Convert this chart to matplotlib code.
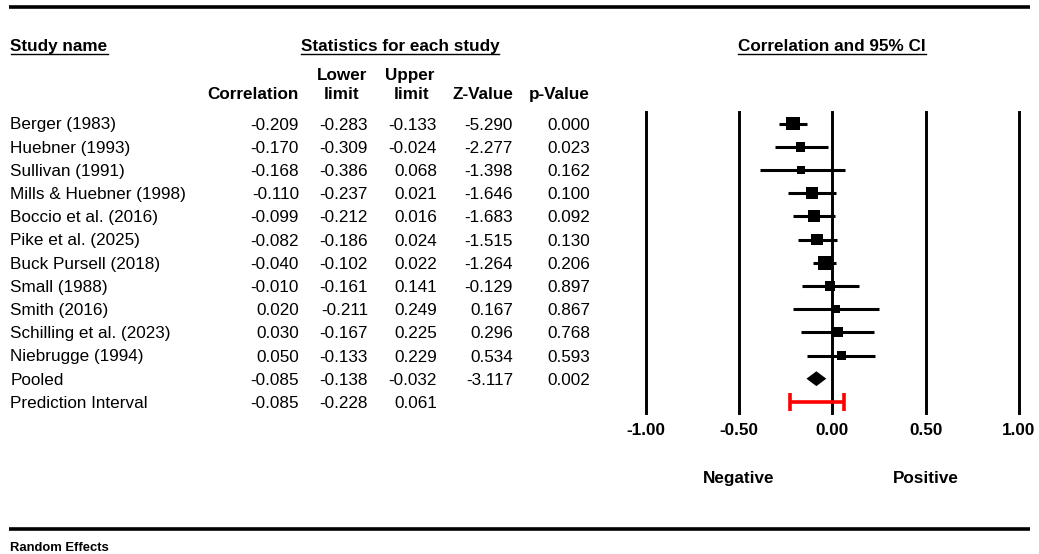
import numpy as np
import matplotlib
matplotlib.use("Agg")
from matplotlib import pyplot as plt

plt.rcParams['font.family'] = ['Liberation Sans', 'DejaVu Sans']

# study data
studies = ["Berger (1983)", "Huebner (1993)", "Sullivan (1991)", "Mills & Huebner (1998)",
           "Boccio et al. (2016)", "Pike et al. (2025)", "Buck Pursell (2018)", "Small (1988)",
           "Smith (2016)", "Schilling et al. (2023)", "Niebrugge (1994)"]
corr = [-0.209, -0.170, -0.168, -0.110, -0.099, -0.082, -0.040, -0.010, 0.020, 0.030, 0.050]
lower = [-0.283, -0.309, -0.386, -0.237, -0.212, -0.186, -0.102, -0.161, -0.211, -0.167, -0.133]
upper = [-0.133, -0.024, 0.068, 0.021, 0.016, 0.024, 0.022, 0.141, 0.249, 0.225, 0.229]
zval = [-5.290, -2.277, -1.398, -1.646, -1.683, -1.515, -1.264, -0.129, 0.167, 0.296, 0.534]
pval = [0.000, 0.023, 0.162, 0.100, 0.092, 0.130, 0.206, 0.897, 0.867, 0.768, 0.593]
# relative weights (%)
weights = [14.5, 7.7, 4.6, 10.6, 10.6, 11.1, 15.1, 7.7, 4.6, 7.3, 6.3]

pooled = {"corr": -0.085, "lower": -0.138, "upper": -0.032, "z": -3.117, "p": 0.002}
pred = {"corr": -0.085, "lower": -0.228, "upper": 0.061}

ticks = [-1.00, -0.50, 0.00, 0.50, 1.00]

W, H = 1039, 554
fig = plt.figure(figsize=(W / 100, H / 100), dpi=100)

# overlay axes in pixel units for the table text
ax0 = fig.add_axes([0, 0, 1, 1])
ax0.set_xlim(0, W)
ax0.set_ylim(H, 0)
ax0.axis('off')

FS = 12.3
row0, dy = 123.5, 23.2
def row_y(i):
    return row0 + dy * i

# horizontal rules
ax0.plot([9, 1030], [7.3, 7.3], color='black', lw=2.6, solid_capstyle='butt')
ax0.plot([9, 1030], [529, 529], color='black', lw=2.6, solid_capstyle='butt')

# headers
hdr_y = 45
under = []
under.append(ax0.text(10.5, hdr_y + 6, "Study name", fontsize=FS, fontweight='bold', ha='left', va='baseline'))
under.append(ax0.text(400, hdr_y + 6, "Statistics for each study", fontsize=FS, fontweight='bold', ha='center', va='baseline'))
under.append(ax0.text(832, hdr_y + 6, "Correlation and 95% CI", fontsize=FS, fontweight='bold', ha='center', va='baseline'))

col_x = [299, 368, 437, 513, 590]
ax0.text(299, 93 + 6, "Correlation", fontsize=FS, fontweight='bold', ha='right', va='baseline')
ax0.text(342, 74 + 6, "Lower", fontsize=FS, fontweight='bold', ha='center', va='baseline')
ax0.text(342, 93 + 6, "limit", fontsize=FS, fontweight='bold', ha='center', va='baseline')
ax0.text(410, 74 + 6, "Upper", fontsize=FS, fontweight='bold', ha='center', va='baseline')
ax0.text(412, 93 + 6, "limit", fontsize=FS, fontweight='bold', ha='center', va='baseline')
ax0.text(513, 93 + 6, "Z-Value", fontsize=FS, fontweight='bold', ha='right', va='baseline')
ax0.text(590, 93 + 6, "p-Value", fontsize=FS, fontweight='bold', ha='right', va='baseline')

# table rows
names = studies + ["Pooled", "Prediction Interval"]
cols = [corr + [pooled["corr"], pred["corr"]],
        lower + [pooled["lower"], pred["lower"]],
        upper + [pooled["upper"], pred["upper"]],
        zval + [pooled["z"], None],
        pval + [pooled["p"], None]]
for i, name in enumerate(names):
    y = row_y(i) + 6
    ax0.text(10.5, y, name, fontsize=FS, ha='left', va='baseline')
    for x, c in zip(col_x, cols):
        if c[i] is not None:
            ax0.text(x, y, f"{c[i]:.3f}", fontsize=FS, ha='right', va='baseline')

ax0.text(10, 551, "Random Effects", fontsize=9.4, fontweight='bold', ha='left', va='baseline')

# forest plot axes
x_l, x_r = 645.5, 1019
y_t, y_b = 112, 413
ax = fig.add_axes([x_l / W, (H - y_b) / H, (x_r - x_l) / W, (y_b - y_t) / H])
ax.set_xlim(-1, 1)
ax.set_ylim((y_b - row0) / dy, (y_t - row0) / dy)
for s in ax.spines.values():
    s.set_visible(False)
ax.set_yticks([])
ax.set_xticks(ticks)
ax.set_xticklabels([f"{t:.2f}" for t in ticks], fontsize=FS, fontweight='bold')
ax.tick_params(axis='x', length=0, pad=7)
for t in ticks:
    ax.axvline(t, color='black', lw=2.1, clip_on=False)

idx = np.arange(len(studies))
ax.hlines(idx, lower, upper, color='black', lw=2.2)
side_px = 3.6 * np.sqrt(weights)
ax.scatter(corr, idx, marker='s', s=(side_px * 0.72) ** 2, color='black', zorder=3, linewidths=0)

# pooled diamond
yp = len(studies)
ax.fill([pooled["lower"], pooled["corr"], pooled["upper"], pooled["corr"]],
        [yp, yp - 0.32, yp, yp + 0.32], color='black', zorder=3, lw=0)

# prediction interval
ypi = len(studies) + 1
ax.hlines(ypi, pred["lower"], pred["upper"], color='#ff0000', lw=2.6)
ax.vlines([pred["lower"], pred["upper"]], ypi - 0.39, ypi + 0.39, color='#ff0000', lw=2.6)

ax.text(-0.5, -0.216, "Negative", transform=ax.get_xaxis_transform(), fontsize=FS,
        fontweight='bold', ha='center', va='center')
ax.text(0.5, -0.216, "Positive", transform=ax.get_xaxis_transform(), fontsize=FS,
        fontweight='bold', ha='center', va='center')

# underline headers
fig.canvas.draw()
inv = ax0.transData.inverted()
for t in under:
    bb = t.get_window_extent()
    (xa, _), (xb, _) = inv.transform([[bb.x0, 0], [bb.x1, 0]])
    ax0.plot([xa, xb], [hdr_y + 8.8, hdr_y + 8.8], color='black', lw=1.0)

fig.savefig("out.png", dpi=100)
